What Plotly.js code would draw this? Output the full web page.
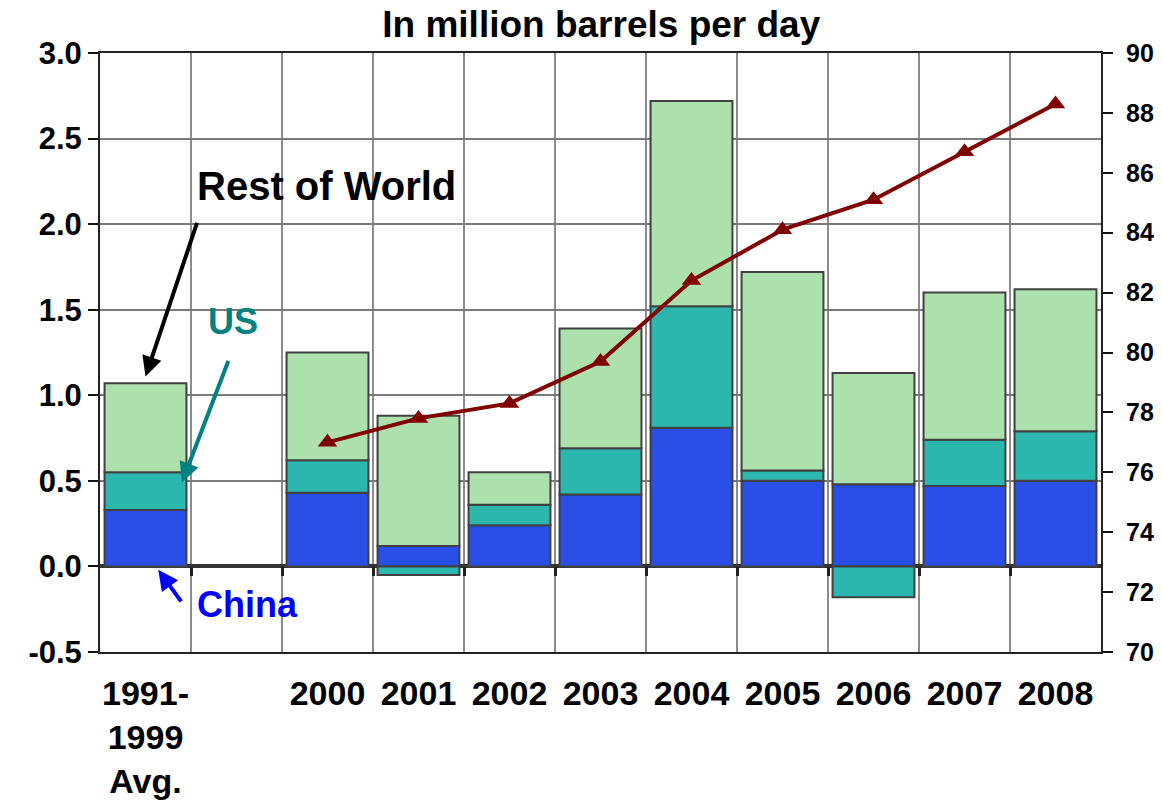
<!DOCTYPE html>
<html>
<head>
<meta charset="utf-8">
<script src="https://cdn.plot.ly/plotly-3.0.1.min.js"></script>
<style>html,body{margin:0;padding:0;background:#fff;}#chart{width:1163px;height:812px;}</style>
</head>
<body>
<div id="chart"></div>
<script>
const categories = ["1991-<br>1999<br>Avg.", "\u00a0", "2000", "2001", "2002", "2003", "2004", "2005", "2006", "2007", "2008"];
const china = [0.33, null, 0.43, 0.12, 0.24, 0.42, 0.81, 0.50, 0.48, 0.47, 0.50];
const us = [0.22, null, 0.19, -0.05, 0.12, 0.27, 0.71, 0.06, -0.18, 0.27, 0.29];
const restOfWorld = [0.52, null, 0.63, 0.76, 0.19, 0.70, 1.20, 1.16, 0.65, 0.86, 0.83];
const worldTotal = [null, null, 77.0, 77.8, 78.3, 79.7, 82.4, 84.1, 85.1, 86.7, 88.3];
const leftTickValues = [-0.5, 0, 0.5, 1.0, 1.5, 2.0, 2.5, 3.0];
const leftTickLabels = ["-0.5", "0.0", "0.5", "1.0", "1.5", "2.0", "2.5", "3.0"];

const FONT = "Liberation Sans, Arial, Helvetica, sans-serif";
const outline = {color: "#404040", width: 2};
const boundaryTicks = categories.slice(1).map((_, i) => i + 0.5);

const traces = [
  {type: "bar", name: "China", x: categories, y: china, marker: {color: "#2a4fe6", line: outline}, hoverinfo: "y"},
  {type: "bar", name: "US", x: categories, y: us, marker: {color: "#2cb7ae", line: outline}, hoverinfo: "y"},
  {type: "bar", name: "Rest of World", x: categories, y: restOfWorld, marker: {color: "#ace0ac", line: outline}, hoverinfo: "y"},
  {type: "scatter", mode: "lines+markers", name: "World", x: categories, y: worldTotal, yaxis: "y2",
   line: {color: "#800000", width: 4}, marker: {symbol: "triangle-up", size: 17, color: "#800000"}, connectgaps: false},
  {type: "scatter", mode: "markers", x: [0], y: [-5], xaxis: "x2", showlegend: false,
   hoverinfo: "skip", marker: {opacity: 0, size: 1}}
];

const layout = {
  width: 1163, height: 812,
  margin: {l: 100, r: 62, t: 53, b: 160},
  paper_bgcolor: "#ffffff", plot_bgcolor: "#ffffff",
  showlegend: false,
  barmode: "relative", bargap: 0.1,
  title: {text: "In million barrels per day", x: 0.517, xanchor: "center", y: 0.97, yanchor: "middle",
          font: {family: FONT, size: 37, color: "#000", weight: "bold"}},
  xaxis: {type: "category", categoryorder: "array", categoryarray: categories, range: [-0.5, 10.5],
          tickson: "boundaries", showgrid: true, gridcolor: "#8c8c8c", gridwidth: 2,
          ticks: "", showline: true, linecolor: "#222", linewidth: 2, mirror: true, tickangle: 0,
          tickfont: {family: FONT, size: 34, color: "#000", weight: "bold"}, ticklabelstandoff: 10, fixedrange: true},
  xaxis2: {type: "linear", range: [-0.5, 10.5], overlaying: "x", anchor: "free", position: 0.5 / 3.5, side: "bottom",
           tickmode: "array", tickvals: boundaryTicks, ticks: "outside", ticklen: 9, tickwidth: 3,
           tickcolor: "#222", showticklabels: false, showgrid: false, showline: false, zeroline: false, fixedrange: true},
  yaxis: {range: [-0.5, 3.0], tickmode: "array", tickvals: leftTickValues, ticktext: leftTickLabels,
          showgrid: true, gridcolor: "#7a7a7a", gridwidth: 2, domain: [0, 1],
          zeroline: true, zerolinecolor: "#333", zerolinewidth: 4,
          ticks: "outside", ticklen: 10, tickwidth: 2, tickcolor: "#111", showline: true, linecolor: "#222", linewidth: 2,
          tickfont: {family: FONT, size: 31, color: "#000", weight: "bold"}, fixedrange: true},
  yaxis2: {range: [70, 90], dtick: 2, overlaying: "y", side: "right", anchor: "x", showgrid: false, zeroline: false,
           ticks: "outside", ticklen: 10, tickwidth: 2, tickcolor: "#111", showline: true, linecolor: "#222", linewidth: 2,
           ticklabelstandoff: 8,
           tickfont: {family: FONT, size: 25, color: "#000", weight: "bold"}, fixedrange: true},
  annotations: [
    {text: "Rest of World", xref: "x", yref: "y", x: 1.99, y: 2.22, showarrow: false,
     font: {family: FONT, size: 40, color: "#000", weight: "bold"}},
    {text: "", xref: "x", yref: "y", x: 0.0, y: 1.11, showarrow: true, ax: 52, ay: -155,
     arrowhead: 2, arrowsize: 1, arrowwidth: 4, arrowcolor: "#000", standoff: 0},
    {text: "US", xref: "x", yref: "y", x: 0.96, y: 1.43, showarrow: false,
     font: {family: FONT, size: 36, color: "#008080", weight: "bold"}},
    {text: "", xref: "x", yref: "y", x: 0.40, y: 0.49, showarrow: true, ax: 47, ay: -123,
     arrowhead: 2, arrowsize: 1, arrowwidth: 4, arrowcolor: "#008080", standoff: 0},
    {text: "China", xref: "x", yref: "y", x: 1.12, y: -0.225, showarrow: false,
     font: {family: FONT, size: 36, color: "#0000ff", weight: "bold"}},
    {text: "", xref: "x", yref: "y", x: 0.14, y: -0.02, showarrow: true, ax: 24, ay: 33,
     arrowhead: 2, arrowsize: 1, arrowwidth: 4, arrowcolor: "#0000ff", standoff: 0}
  ]
};

Plotly.newPlot("chart", traces, layout, {displayModeBar: false, staticPlot: true});
</script>
</body>
</html>
